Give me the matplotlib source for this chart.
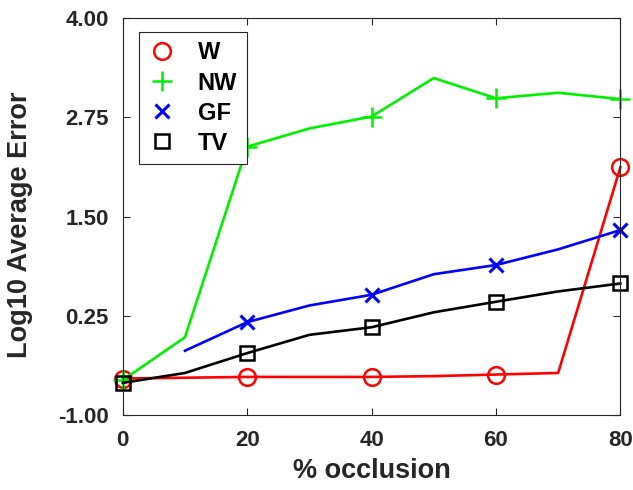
import numpy as np
import matplotlib
matplotlib.use("Agg")
import matplotlib.pyplot as plt

x = [0, 10, 20, 30, 40, 50, 60, 70, 80]
w_vals = [-0.54, -0.53, -0.52, -0.52, -0.52, -0.51, -0.49, -0.47, 2.12]
nw_vals = [-0.56, -0.02, 2.38, 2.61, 2.76, 3.245, 2.99, 3.06, 2.98]
gf_vals = [np.nan, -0.19, 0.17, 0.38, 0.515, 0.774, 0.89, 1.087, 1.33]
tv_vals = [-0.595, -0.47, -0.22, 0.01, 0.106, 0.294, 0.427, 0.557, 0.657]
labels = ["W", "NW", "GF", "TV"]
yticks = [-1.00, 0.25, 1.50, 2.75, 4.00]
xticks = [0, 20, 40, 60, 80]

plt.rcParams['font.family'] = ['Liberation Sans', 'DejaVu Sans']
plt.rcParams['font.weight'] = 'bold'

fig = plt.figure(figsize=(6.33, 4.90), dpi=100)
ax = fig.add_axes([0.194, 0.153, 0.786, 0.810])

lw = 1.9
ms = 12
mew = 1.8
ax.plot(x, w_vals, color='#ff0000', lw=lw, marker='o', ms=ms, mfc='none', mew=mew, markevery=2, label=labels[0], clip_on=False)
ax.plot(x, nw_vals, color='#00ee00', lw=lw, marker='+', ms=ms+3, mew=mew, markevery=2, label=labels[1], clip_on=False)
ax.plot(x, gf_vals, color='#0000ff', lw=lw, marker='x', ms=ms-2, mew=mew+0.4, markevery=2, label=labels[2], clip_on=False)
ax.plot(x, tv_vals, color='#000000', lw=lw, marker='s', ms=ms-2, mfc='none', mew=mew, markevery=2, label=labels[3], clip_on=False)

ax.set_xlim(0, 80)
ax.set_ylim(-1, 4)
ax.set_xticks(xticks)
ax.set_yticks(yticks)
ax.set_yticklabels([f"{v:.2f}" for v in yticks])
ax.tick_params(direction='in', top=True, right=True, labelsize=16, colors='#262626', length=5, width=0.8)
ax.tick_params(axis='x', pad=11)
ax.tick_params(axis='y', pad=10)
for lab in ax.get_xticklabels() + ax.get_yticklabels():
    lab.set_fontweight('bold')
for s in ax.spines.values():
    s.set_color('#262626')
    s.set_linewidth(0.8)

ax.set_xlabel('% occlusion', fontsize=19.5, fontweight='bold', color='#262626', labelpad=5)
ax.set_ylabel('Log10 Average Error', fontsize=19.5, fontweight='bold', color='#262626')
ax.yaxis.set_label_coords(-0.181, 0.48)

leg = ax.legend(loc='upper left', bbox_to_anchor=(0.032, 0.965), borderaxespad=0, handlelength=1.2, handletextpad=0.9,
                prop={'size': 17, 'weight': 'bold'}, fancybox=False, edgecolor='#262626',
                borderpad=0.4, labelspacing=0.3, framealpha=1)
for h in leg.legend_handles:
    h.set_linestyle('none')
leg.get_frame().set_linewidth(0.8)

fig.savefig('out.png', dpi=100)
